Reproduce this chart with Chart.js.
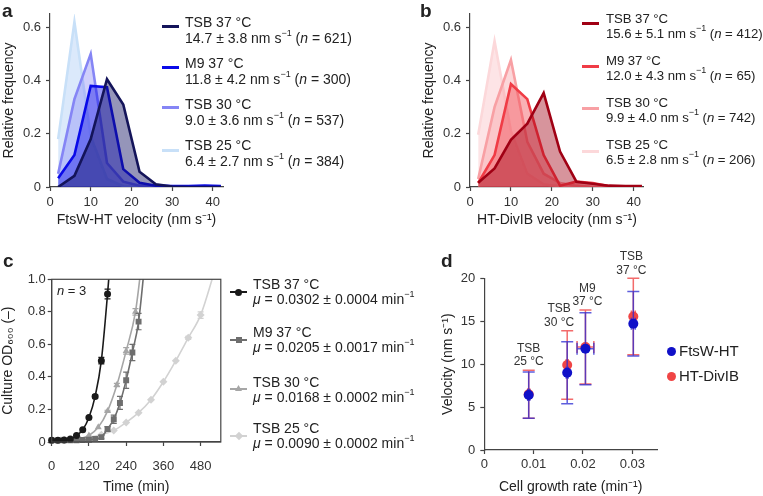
<!DOCTYPE html>
<html><head><meta charset="utf-8">
<script src="https://cdn.jsdelivr.net/npm/chart.js@4.4.1/dist/chart.umd.min.js"></script>
<style>
body{margin:0;width:763px;height:496px;position:relative;background:#fff;font-family:'Liberation Sans',Arial,sans-serif;color:#222;overflow:hidden}
canvas{position:absolute}
.t{position:absolute;font-size:14px;line-height:16px;white-space:nowrap}
.lab{position:absolute;font-weight:bold;font-size:19px;line-height:19px}
.sw{position:absolute;height:3px}
sup{font-size:9px;line-height:0;position:relative;top:-1px;vertical-align:super}
.mk{position:absolute}
.lb{font-size:13.2px;line-height:15px;letter-spacing:-0.05px}
</style></head>
<body>
<canvas id="ca" width="232" height="232" style="left:0;top:0"></canvas>
<canvas id="cb" width="225" height="232" style="left:420px;top:0"></canvas>
<canvas id="cc" width="225" height="271" style="left:0;top:225px"></canvas>
<canvas id="cd" width="225" height="271" style="left:440px;top:225px"></canvas>

<div class="lab" style="left:2px;top:1px">a</div>
<div class="lab" style="left:420px;top:1px">b</div>
<div class="lab" style="left:3px;top:251px">c</div>
<div class="lab" style="left:441px;top:251px">d</div>

<!-- legend a -->
<div class="sw" style="left:162px;top:24.5px;width:17px;background:#14145a"></div>
<div class="sw" style="left:162px;top:65.5px;width:17px;background:#0a0ae8"></div>
<div class="sw" style="left:162px;top:105.5px;width:17px;background:#8585f5"></div>
<div class="sw" style="left:162px;top:148.5px;width:17px;background:#c8e0f8"></div>
<div class="t" style="left:185px;top:14px">TSB 37 °C<br>14.7 ± 3.8 nm s<sup>−1</sup> (<i>n</i> = 621)</div>
<div class="t" style="left:185px;top:55px">M9 37 °C<br>11.8 ± 4.2 nm s<sup>−1</sup> (<i>n</i> = 300)</div>
<div class="t" style="left:185px;top:96px">TSB 30 °C<br>9.0 ± 3.6 nm s<sup>−1</sup> (<i>n</i> = 537)</div>
<div class="t" style="left:185px;top:137px">TSB 25 °C<br>6.4 ± 2.7 nm s<sup>−1</sup> (<i>n</i> = 384)</div>

<!-- legend b -->
<div class="sw" style="left:582px;top:21.5px;width:17px;background:#a00014"></div>
<div class="sw" style="left:582px;top:64.5px;width:17px;background:#f03c46"></div>
<div class="sw" style="left:582px;top:106.5px;width:17px;background:#f8a0a4"></div>
<div class="sw" style="left:582px;top:149.5px;width:17px;background:#fcd8da"></div>
<div class="t lb" style="left:606px;top:10.5px">TSB 37 °C<br>15.6 ± 5.1 nm s<sup>−1</sup> (<i>n</i> = 412)</div>
<div class="t lb" style="left:606px;top:52.5px">M9 37 °C<br>12.0 ± 4.3 nm s<sup>−1</sup> (<i>n</i> = 65)</div>
<div class="t lb" style="left:606px;top:94.5px">TSB 30 °C<br>9.9 ± 4.0 nm s<sup>−1</sup> (<i>n</i> = 742)</div>
<div class="t lb" style="left:606px;top:136.5px">TSB 25 °C<br>6.5 ± 2.8 nm s<sup>−1</sup> (<i>n</i> = 206)</div>

<!-- legend c -->
<div class="sw" style="left:230px;top:291px;width:17px;height:1.5px;background:#1a1a1a"></div>
<div class="mk" style="left:235px;top:288.5px;width:7px;height:7px;border-radius:50%;background:#1a1a1a"></div>
<div class="sw" style="left:230px;top:339px;width:17px;height:1.5px;background:#6e6e6e"></div>
<div class="mk" style="left:235.5px;top:336.5px;width:6px;height:6px;background:#6e6e6e"></div>
<div class="sw" style="left:230px;top:388px;width:17px;height:1.5px;background:#a6a6a6"></div>
<div class="mk" style="left:235px;top:385px;width:7px;height:6px;background:#a6a6a6;clip-path:polygon(50% 0,100% 100%,0 100%)"></div>
<div class="sw" style="left:230px;top:435px;width:17px;height:1.5px;background:#d2d2d2"></div>
<div class="mk" style="left:235.5px;top:432.5px;width:6px;height:6px;background:#d2d2d2;transform:rotate(45deg)"></div>
<div class="t" style="left:253px;top:277px;line-height:14.5px">TSB 37 °C<br><i>μ</i> = 0.0302 ± 0.0004 min<sup>−1</sup></div>
<div class="t" style="left:253px;top:325px;line-height:14.5px">M9 37 °C<br><i>μ</i> = 0.0205 ± 0.0017 min<sup>−1</sup></div>
<div class="t" style="left:253px;top:375px;line-height:14.5px">TSB 30 °C<br><i>μ</i> = 0.0168 ± 0.0002 min<sup>−1</sup></div>
<div class="t" style="left:253px;top:421px;line-height:14.5px">TSB 25 °C<br><i>μ</i> = 0.0090 ± 0.0002 min<sup>−1</sup></div>
<div class="t" style="left:57px;top:283px;font-size:13px"><i>n</i> = 3</div>

<!-- legend d -->
<div class="mk" style="left:667px;top:346.5px;width:9px;height:9px;border-radius:50%;background:#1010c8"></div>
<div class="mk" style="left:667px;top:371.5px;width:9px;height:9px;border-radius:50%;background:#f04545"></div>
<div class="t" style="left:679px;top:342px;font-size:15px;line-height:18px">FtsW-HT</div>
<div class="t" style="left:679px;top:367px;font-size:15px;line-height:18px">HT-DivIB</div>

<script>
// ---------- data ----------
const binCenters = [2, 6, 10, 14, 18, 22, 26, 30, 34, 38, 42];
// panel a : FtsW-HT velocity histograms
const ftswTSB37 = [0.0, 0.042, 0.18, 0.405, 0.31, 0.057, 0.01, 0.002, 0.0, 0.0, 0.0];
const ftswM9    = [0.033, 0.12, 0.38, 0.375, 0.067, 0.016, 0.005, 0.004, 0.004, 0.005, 0.004];
const ftswTSB30 = [0.05, 0.33, 0.50, 0.09, 0.02, 0.005, 0.002, 0.0, 0.0, 0.0, 0.0];
const ftswTSB25 = [0.18, 0.62, 0.19, 0.03, 0.003, 0.0, 0.0, 0.0, 0.0, 0.0, 0.0];
// panel b : HT-DivIB velocity histograms
const divibTSB37 = [0.016, 0.07, 0.177, 0.238, 0.353, 0.133, 0.02, 0.012, 0.005, 0.004, 0.004];
const divibM9    = [0.015, 0.12, 0.387, 0.33, 0.12, 0.005, 0.02, 0.015, 0.003, 0.003, 0.003];
const divibTSB30 = [0.03, 0.30, 0.477, 0.17, 0.05, 0.015, 0.005, 0.0, 0.0, 0.0, 0.0];
const divibTSB25 = [0.196, 0.548, 0.21, 0.05, 0.01, 0.003, 0.0, 0.0, 0.0, 0.0, 0.0];
// panel c : growth curves (time in min, OD600, SD)
const timeTSB37 = [0, 20, 40, 60, 80, 100, 120, 140, 160, 180, 190];
const odTSB37   = [0.01, 0.01, 0.012, 0.018, 0.04, 0.075, 0.15, 0.28, 0.50, 0.91, 1.15];
const sdTSB37   = [0, 0, 0, 0, 0, 0, 0.005, 0.01, 0.02, 0.03, 0];
const timeM9 = [0, 20, 40, 60, 80, 100, 120, 140, 160, 180, 200, 220, 240, 260, 280, 300];
const odM9   = [0.01, 0.01, 0.01, 0.01, 0.01, 0.012, 0.014, 0.018, 0.03, 0.08, 0.14, 0.24, 0.38, 0.55, 0.74, 1.1];
const sdM9   = [0, 0, 0, 0, 0, 0, 0, 0, 0.01, 0.015, 0.025, 0.04, 0.05, 0.05, 0.05, 0];
const timeTSB30 = [0, 30, 60, 90, 120, 150, 180, 210, 240, 270, 290];
const odTSB30   = [0.01, 0.01, 0.012, 0.02, 0.04, 0.09, 0.19, 0.35, 0.56, 0.80, 1.1];
const sdTSB30   = [0, 0, 0, 0, 0, 0, 0.005, 0.01, 0.02, 0.02, 0];
const timeTSB25 = [0, 40, 80, 120, 160, 200, 240, 280, 320, 360, 400, 440, 480, 525];
const odTSB25   = [0.01, 0.012, 0.02, 0.03, 0.045, 0.07, 0.12, 0.18, 0.26, 0.37, 0.50, 0.64, 0.78, 1.05];
const sdTSB25   = [0, 0, 0, 0, 0, 0, 0, 0, 0, 0, 0, 0.01, 0.02, 0];
// panel d : velocity vs growth rate
const conditionLabels = [['TSB', '25 °C'], ['TSB', '30 °C'], ['M9', '37 °C'], ['TSB', '37 °C']];
const growthRate   = [0.0090, 0.0168, 0.0205, 0.0302];
const growthRateSD = [0.0002, 0.0002, 0.0017, 0.0004];
const velFtsW   = [6.4, 9.0, 11.8, 14.7];
const velFtsWSD = [2.7, 3.6, 4.2, 3.75];
const velDivIB   = [6.5, 9.9, 12.0, 15.55];
const velDivIBSD = [2.8, 4.0, 4.3, 4.45];

// ---------- helpers ----------
const FONT = "'Liberation Sans', Arial, sans-serif";
Chart.defaults.font.family = FONT;
Chart.defaults.color = '#333';
const pts = (xs, ys) => xs.map((x, i) => ({x, y: ys[i]}));
const AX = '#444';

function axis(o) {
  return {
    type: 'linear', min: o.min, max: o.max, position: o.pos,
    grid: {drawOnChartArea: false, drawTicks: true, tickLength: 4, color: AX, tickWidth: 1.2},
    border: {display: true, color: AX, width: 1.2},
    ticks: {stepSize: o.step, includeBounds: false, font: {size: 13, family: FONT}, color: '#333',
            padding: o.pad, maxRotation: 0, autoSkip: false, callback: o.fmt},
    title: {display: true, text: o.title, color: '#222', font: {size: 14, family: FONT},
            padding: o.tpad},
    afterFit: s => { if (o.pos === 'left') s.width = o.size; else s.height = o.size; }
  };
}
const f1 = v => v === 0 ? '0' : v.toFixed(1);

const errPlugin = {
  id: 'errbars',
  beforeDatasetDraw(chart, args) {
    const ds = chart.data.datasets[args.index];
    if (!ds.errY && !ds.errX) return;
    const xs = chart.scales.x, ys = chart.scales.y, ctx = chart.ctx;
    const cap = ds.capSize || 3;
    ctx.save();
    ctx.strokeStyle = ds.errColor || ds.borderColor;
    ctx.lineWidth = ds.errWidth || 1.2;
    ds.data.forEach((p, i) => {
      const x = xs.getPixelForValue(p.x), y = ys.getPixelForValue(p.y);
      const ey = ds.errY ? ds.errY[i] : 0;
      if (ey) {
        const y1 = ys.getPixelForValue(p.y - ey), y2 = ys.getPixelForValue(p.y + ey);
        ctx.beginPath();
        ctx.moveTo(x, y1); ctx.lineTo(x, y2);
        ctx.moveTo(x - cap, y1); ctx.lineTo(x + cap, y1);
        ctx.moveTo(x - cap, y2); ctx.lineTo(x + cap, y2);
        ctx.stroke();
      }
      const ex = ds.errX ? ds.errX[i] : 0;
      if (ex) {
        const x1 = xs.getPixelForValue(p.x - ex), x2 = xs.getPixelForValue(p.x + ex);
        ctx.beginPath();
        ctx.moveTo(x1, y); ctx.lineTo(x2, y);
        ctx.moveTo(x1, y - cap); ctx.lineTo(x1, y + cap);
        ctx.moveTo(x2, y - cap); ctx.lineTo(x2, y + cap);
        ctx.stroke();
      }
    });
    ctx.restore();
  }
};
const boxPlugin = {
  id: 'box',
  afterDraw(chart) {
    const a = chart.chartArea, ctx = chart.ctx;
    ctx.save(); ctx.strokeStyle = AX; ctx.lineWidth = 1.2;
    ctx.strokeRect(a.left, a.top, a.right - a.left, a.bottom - a.top);
    ctx.restore();
  }
};
const annPlugin = {
  id: 'ann',
  afterDraw(chart, args, opts) {
    const xs = chart.scales.x, ys = chart.scales.y, ctx = chart.ctx;
    ctx.save();
    ctx.font = '12px ' + FONT; ctx.fillStyle = '#333'; ctx.textAlign = 'center'; ctx.textBaseline = 'middle';
    conditionLabels.forEach((lines, i) => {
      const top = Math.max(velFtsW[i] + velFtsWSD[i], velDivIB[i] + velDivIBSD[i]);
      const x = xs.getPixelForValue(growthRate[i]) + opts.dx[i];
      const yb = ys.getPixelForValue(top) - 8;
      ctx.fillText(lines[1], x, yb);
      ctx.fillText(lines[0], x, yb - 13.5);
    });
    ctx.restore();
  }
};

function histChart(id, title, series, colors, fills, padding) {
  return new Chart(document.getElementById(id), {
    type: 'line',
    data: {datasets: series.map((s, i) => ({
      data: pts(binCenters, s), borderColor: colors[i], backgroundColor: fills[i],
      fill: 'origin', borderWidth: 2.6, pointRadius: 0, tension: 0, borderJoinStyle: 'miter'
    }))},
    options: {
      responsive: false, animation: false, devicePixelRatio: 1,
      layout: {padding},
      plugins: {legend: {display: false}, tooltip: {enabled: false}},
      scales: {
        x: axis({min: 0, max: 42.5, step: 10, pos: 'bottom', pad: 4, size: 45, title,
                 tpad: {top: 0, bottom: 3}, fmt: v => String(v)}),
        y: axis({min: 0, max: 0.65, step: 0.2, pos: 'left', pad: 5, size: 50,
                 title: 'Relative frequency', tpad: {top: 1, bottom: 0}, fmt: f1})
      }
    }
  });
}

histChart('ca', 'FtsW-HT velocity (nm s⁻¹)',
  [ftswTSB37, ftswM9, ftswTSB30, ftswTSB25],
  ['#14145a', '#0a0ae8', '#8585f5', '#c8e0f8'],
  ['rgba(20,20,100,0.45)', 'rgba(10,10,230,0.42)', 'rgba(130,130,245,0.38)', 'rgba(190,215,248,0.55)'],
  {top: 14, right: 9, left: 0, bottom: 0});

histChart('cb', 'HT-DivIB velocity (nm s⁻¹)',
  [divibTSB37, divibM9, divibTSB30, divibTSB25],
  ['#a00014', '#f03c46', '#f8a0a4', '#fcd8da'],
  ['rgba(160,0,20,0.42)', 'rgba(240,60,70,0.40)', 'rgba(248,150,155,0.38)', 'rgba(252,205,210,0.55)'],
  {top: 14, right: 1, left: 0, bottom: 0});

// panel c
const growth = [
  {t: timeTSB37, v: odTSB37, sd: sdTSB37, c: '#1a1a1a', ps: 'circle', r: 3.5},
  {t: timeM9, v: odM9, sd: sdM9, c: '#6e6e6e', ps: 'rect', r: 4.2},
  {t: timeTSB30, v: odTSB30, sd: sdTSB30, c: '#a6a6a6', ps: 'triangle', r: 4},
  {t: timeTSB25, v: odTSB25, sd: sdTSB25, c: '#d2d2d2', ps: 'rectRot', r: 4}
];
new Chart(document.getElementById('cc'), {
  type: 'line',
  data: {datasets: growth.map(g => ({
    data: pts(g.t, g.v), borderColor: g.c, backgroundColor: g.c, borderWidth: 1.6,
    pointStyle: g.ps, pointRadius: g.v.map((v, i) => i === g.v.length - 1 ? 0 : g.r),
    pointBorderWidth: 0, tension: 0.35, cubicInterpolationMode: 'monotone', fill: false,
    errY: g.sd, errColor: g.c, capSize: 3, errWidth: 1.2,
    clip: {left: 6, top: 0, right: 0, bottom: 6}
  }))},
  options: {
    responsive: false, animation: false, devicePixelRatio: 1,
    layout: {padding: {top: 54.3, right: 1.7, left: 0, bottom: 0}},
    plugins: {legend: {display: false}, tooltip: {enabled: false}},
    scales: {
      x: axis({min: 0, max: 545, step: 120, pos: 'bottom', pad: 13, size: 54, title: 'Time (min)',
               tpad: {top: 0, bottom: 0}, fmt: v => String(v)}),
      y: axis({min: 0, max: 1, step: 0.2, pos: 'left', pad: 2, size: 51.7, title: 'Culture OD₆₀₀ (–)',
               tpad: {top: 0, bottom: 0}, fmt: f1})
    }
  },
  plugins: [errPlugin, boxPlugin]
});

// panel d
new Chart(document.getElementById('cd'), {
  type: 'scatter',
  data: {datasets: [
    {data: pts(growthRate, velFtsW), backgroundColor: '#1010c8', borderColor: '#1010c8', pointRadius: 5,
     pointBorderWidth: 0, errY: velFtsWSD, errX: growthRateSD, errColor: 'rgba(40,40,210,0.75)', capSize: 6, errWidth: 1.5},
    {data: pts(growthRate, velDivIB), backgroundColor: '#f04545', borderColor: '#f04545', pointRadius: 5,
     pointBorderWidth: 0, errY: velDivIBSD, errX: growthRateSD, errColor: 'rgba(240,70,70,0.8)', capSize: 6, errWidth: 1.5}
  ]},
  options: {
    responsive: false, animation: false, devicePixelRatio: 1,
    layout: {padding: {top: 53.3, right: 8, left: 0, bottom: 0}},
    plugins: {legend: {display: false}, tooltip: {enabled: false}, ann: {dx: [0, -8, 2, -2]}},
    scales: {
      x: axis({min: 0, max: 0.035, step: 0.01, pos: 'bottom', pad: 3, size: 46, title: 'Cell growth rate (min⁻¹)',
               tpad: {top: 0, bottom: 0}, fmt: v => v === 0 ? '0' : v.toFixed(2)}),
      y: axis({min: 0, max: 20, step: 5, pos: 'left', pad: 5, size: 44.3, title: 'Velocity (nm s⁻¹)',
               tpad: {top: 0, bottom: 0}, fmt: v => String(v)})
    }
  },
  plugins: [errPlugin, annPlugin]
});
</script>
</body></html>
